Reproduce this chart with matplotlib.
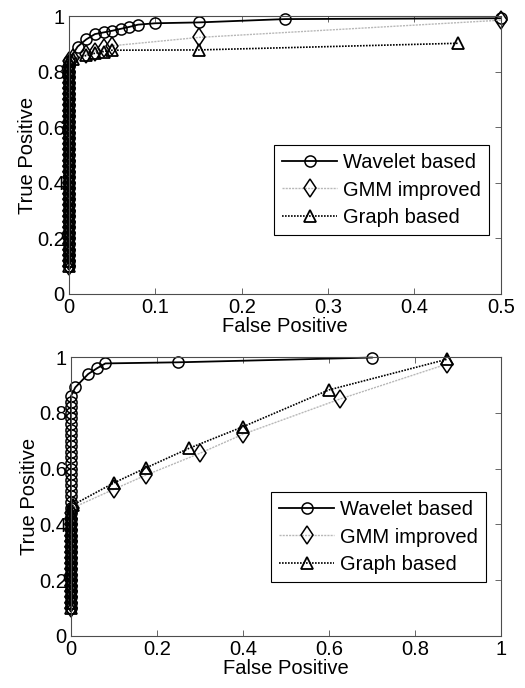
import matplotlib
matplotlib.use('Agg')
import matplotlib.pyplot as plt

plt.rcParams['font.family'] = ['Liberation Sans', 'DejaVu Sans']

# vertical run of points at FP = 0
col_top = [0.10, 0.12, 0.14, 0.16, 0.18, 0.20, 0.22, 0.24, 0.26, 0.28, 0.30, 0.32, 0.34,
           0.36, 0.38, 0.40, 0.42, 0.44, 0.46, 0.48, 0.50, 0.52, 0.54, 0.56, 0.58, 0.60,
           0.62, 0.64, 0.66, 0.68, 0.70, 0.72, 0.74, 0.76, 0.78, 0.80, 0.82, 0.84]
col_low = [0.10, 0.12, 0.14, 0.16, 0.18, 0.20, 0.22, 0.24, 0.26, 0.28, 0.30, 0.32, 0.34,
           0.36, 0.38, 0.40, 0.42, 0.44]

# top chart
wav1_x = [0.01, 0.02, 0.03, 0.04, 0.05, 0.06, 0.07, 0.08, 0.10, 0.15, 0.25, 0.50]
wav1_y = [0.89, 0.916, 0.935, 0.941, 0.947, 0.954, 0.961, 0.969, 0.974, 0.977, 0.989, 0.992]
gmm1_x = [0.005, 0.02, 0.03, 0.04, 0.05, 0.15, 0.50]
gmm1_y = [0.85, 0.862, 0.872, 0.884, 0.893, 0.923, 0.985]
grp1_x = [0.005, 0.02, 0.03, 0.04, 0.05, 0.15, 0.45]
grp1_y = [0.845, 0.858, 0.866, 0.872, 0.877, 0.878, 0.902]

# bottom chart
wav2_x = [0.0, 0.01, 0.04, 0.06, 0.08, 0.25, 0.70]
wav2_y = [0.86, 0.891, 0.939, 0.959, 0.977, 0.981, 0.998]
gmm2_x = [0.005, 0.10, 0.175, 0.30, 0.40, 0.625, 0.875]
gmm2_y = [0.46, 0.526, 0.577, 0.655, 0.723, 0.849, 0.975]
grp2_x = [0.005, 0.10, 0.175, 0.275, 0.40, 0.60, 0.875]
grp2_y = [0.47, 0.549, 0.603, 0.673, 0.750, 0.882, 0.992]

fig = plt.figure(figsize=(5.25, 6.88), dpi=100)


def plotter(ax, wx, wy, gx, gy, tx, ty, wcol, lcol, xmax, xticks, leg_anchor):
    wx = [0.0] * len(wcol) + wx
    wy = wcol + wy
    gx = [0.0] * len(lcol) + gx
    gy = lcol + gy
    tx = [0.0] * len(lcol) + tx
    ty = lcol + ty
    ax.plot(wx, wy, color='black', lw=1.3, marker='o', ms=8, mfc='none', mec='black',
            mew=1.1, label='Wavelet based', clip_on=False)
    ax.plot(gx, gy, color='0.72', lw=1.0, ls=(0, (1.5, 0.8)), marker='d', ms=9.5, mfc='none',
            mec='black', mew=1.1, label='GMM improved', clip_on=False)
    ax.plot(tx, ty, color='black', lw=1.2, ls=(0, (1, 0.8)), marker='^', ms=8, mfc='none',
            mec='black', mew=1.3, label='Graph based', clip_on=False)
    ax.set_xlim(0, xmax)
    ax.set_ylim(0, 1)
    ax.set_xticks(xticks)
    ax.set_xticklabels([('%g' % v) for v in xticks])
    ax.set_yticks([0, 0.2, 0.4, 0.6, 0.8, 1])
    ax.set_yticklabels(['0', '0.2', '0.4', '0.6', '0.8', '1'])
    ax.tick_params(direction='in', length=4, width=0.6, top=True, right=True,
                   labelsize=14.5, color='0.3', pad=3)
    for s in ax.spines.values():
        s.set_color('0.3')
        s.set_linewidth(0.8)
    ax.set_xlabel('False Positive', fontsize=14.5, labelpad=0)
    ax.set_ylabel('True Positive', fontsize=14.5, labelpad=0)
    leg = ax.legend(loc='upper right', bbox_to_anchor=leg_anchor, fontsize=14.5,
                    fancybox=False, framealpha=1, edgecolor='black', handlelength=2.7,
                    handletextpad=0.3, borderpad=0.4, labelspacing=0.42, borderaxespad=0)
    leg.get_frame().set_linewidth(0.8)


ax1 = fig.add_axes([0.1314, 0.5727, 0.8226, 0.404])
plotter(ax1, wav1_x, wav1_y, gmm1_x, gmm1_y, grp1_x, grp1_y, col_top, col_top, 0.5,
        [0, 0.1, 0.2, 0.3, 0.4, 0.5], (0.972, 0.536))

ax2 = fig.add_axes([0.1352, 0.0756, 0.8188, 0.4055])
plotter(ax2, wav2_x, wav2_y, gmm2_x, gmm2_y, grp2_x, grp2_y, col_top, col_low, 1.0,
        [0, 0.2, 0.4, 0.6, 0.8, 1], (0.965, 0.516))

plt.savefig('out.png', dpi=100)
